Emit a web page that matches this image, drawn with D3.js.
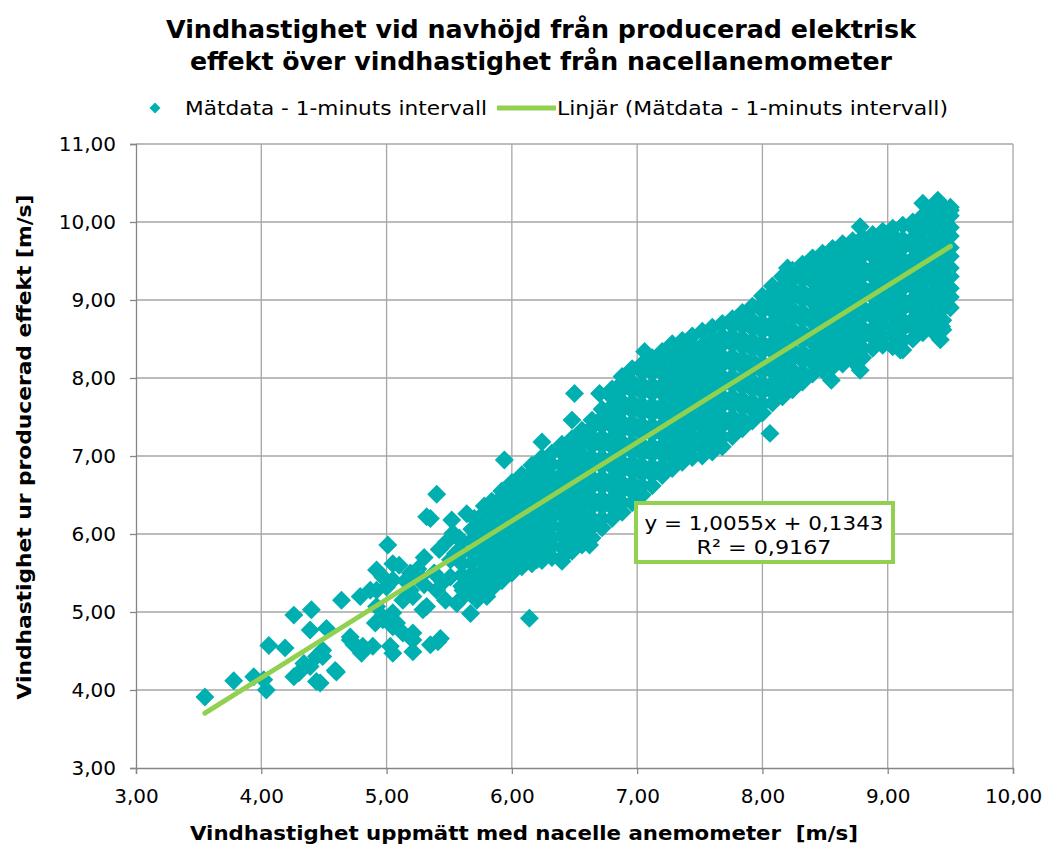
<!DOCTYPE html>
<html><head><meta charset="utf-8">
<script src="https://cdn.jsdelivr.net/npm/d3@7"></script>
<style>html,body{margin:0;padding:0;background:#fff;}svg{display:block;font-family:"DejaVu Sans",Verdana,sans-serif;}</style>
</head><body>
<svg id="chart" width="1045" height="845"></svg>
<script>
const titleLines = ["Vindhastighet vid navhöjd från producerad elektrisk", "effekt över vindhastighet från nacellanemometer"];
const legendLabels = ["Mätdata - 1-minuts intervall", "Linjär (Mätdata - 1-minuts intervall)"];
const xAxisTitle = "Vindhastighet uppmätt med nacelle anemometer  [m/s]";
const yAxisTitle = "Vindhastighet ur producerad effekt [m/s]";
const xTicks = [3, 4, 5, 6, 7, 8, 9, 10];
const yTicks = [3, 4, 5, 6, 7, 8, 9, 10, 11];
const trendSlope = 1.0055;
const trendIntercept = 0.1343;
const equationLines = ["y = 1,0055x + 0,1343", "R² = 0,9167"];

// dense band of 1-minute samples, read column by column (x, then y values)
const bandX = [5.60,5.68,5.76,5.84,5.92,6.00,6.08,6.16,6.24,6.32,6.40,6.48,6.56,6.64,6.72,6.80,6.88,6.96,7.04,7.12,7.20,7.28,7.36,7.44,7.52,7.60,7.68,7.76,7.84,7.92,8.00,8.08,8.16,8.24,8.32,8.40,8.48,8.56,8.64,8.72,8.80,8.88,8.96,9.04,9.12,9.20,9.28,9.36,9.44,9.50];
const bandY = [
 [5.18,5.33,5.47,5.62,5.76,5.90],
 [5.22,5.36,5.49,5.63,5.77,5.92,6.06],
 [5.25,5.39,5.52,5.66,5.80,5.95,6.09,6.24],
 [5.30,5.44,5.57,5.71,5.85,6.00,6.13,6.28,6.42],
 [5.40,5.52,5.66,5.79,5.93,6.06,6.20,6.34,6.47,6.55],
 [5.50,5.63,5.77,5.90,6.04,6.17,6.31,6.44,6.58,6.66],
 [5.58,5.70,5.85,5.96,6.11,6.22,6.37,6.48,6.63,6.76],
 [5.62,5.76,5.87,6.02,6.13,6.28,6.39,6.54,6.65,6.79,6.88],
 [5.66,5.78,5.93,6.04,6.19,6.30,6.45,6.56,6.71,6.83,6.98],
 [5.70,5.84,5.95,6.10,6.21,6.36,6.47,6.62,6.73,6.89,7.04],
 [5.70,5.83,5.98,6.09,6.25,6.36,6.51,6.62,6.77,6.89,7.04,7.15],
 [5.78,5.92,6.03,6.18,6.29,6.44,6.55,6.70,6.81,6.96,7.08,7.22],
 [5.86,5.98,6.13,6.24,6.39,6.50,6.65,6.76,6.91,7.02,7.17,7.33],
 [5.95,6.09,6.20,6.35,6.46,6.61,6.72,6.87,6.98,7.13,7.24,7.37,7.46],
 [6.08,6.20,6.35,6.46,6.61,6.72,6.87,6.98,7.13,7.24,7.39,7.49,7.60],
 [6.20,6.34,6.45,6.60,6.71,6.86,6.97,7.12,7.23,7.38,7.49,7.64,7.75,7.86],
 [6.28,6.40,6.55,6.66,6.81,6.92,7.07,7.18,7.33,7.44,7.59,7.70,7.85,7.94,8.02],
 [6.40,6.54,6.65,6.80,6.91,7.06,7.17,7.32,7.43,7.58,7.69,7.84,7.95,8.12],
 [6.50,6.62,6.77,6.88,7.03,7.14,7.29,7.40,7.55,7.66,7.81,7.92,8.07,8.18],
 [6.62,6.76,6.87,7.02,7.13,7.28,7.39,7.54,7.65,7.80,7.91,8.06,8.15,8.26],
 [6.75,6.87,7.02,7.13,7.28,7.39,7.54,7.65,7.80,7.91,8.06,8.17,8.34],
 [6.84,6.98,7.09,7.24,7.35,7.50,7.61,7.76,7.87,8.02,8.13,8.28,8.44],
 [6.92,7.04,7.19,7.30,7.45,7.56,7.71,7.82,7.97,8.08,8.23,8.34,8.48],
 [6.98,7.12,7.23,7.38,7.49,7.64,7.75,7.90,8.01,8.16,8.27,8.42,8.54],
 [7.00,7.12,7.27,7.38,7.53,7.64,7.79,7.90,8.05,8.16,8.31,8.42,8.60],
 [7.05,7.19,7.30,7.45,7.56,7.71,7.82,7.97,8.08,8.23,8.34,8.49,8.65],
 [7.12,7.24,7.39,7.50,7.65,7.76,7.91,8.02,8.17,8.28,8.43,8.54,8.70],
 [7.25,7.39,7.50,7.65,7.76,7.91,8.02,8.17,8.28,8.43,8.54,8.67,8.76],
 [7.35,7.47,7.62,7.73,7.88,7.99,8.14,8.25,8.40,8.51,8.66,8.84],
 [7.45,7.59,7.70,7.85,7.96,8.11,8.22,8.37,8.48,8.63,8.74,8.92],
 [7.55,7.67,7.82,7.93,8.08,8.19,8.34,8.45,8.60,8.71,8.86,8.95,9.05],
 [7.68,7.82,7.93,8.08,8.19,8.34,8.45,8.60,8.71,8.86,8.97,9.09,9.18],
 [7.76,7.88,8.03,8.14,8.29,8.40,8.55,8.66,8.81,8.92,9.07,9.17,9.30],
 [7.85,7.99,8.10,8.25,8.36,8.51,8.62,8.77,8.88,9.03,9.14,9.28,9.38],
 [7.95,8.07,8.22,8.33,8.48,8.59,8.74,8.85,9.00,9.11,9.26,9.35,9.46],
 [8.05,8.19,8.30,8.45,8.56,8.71,8.82,8.97,9.08,9.23,9.34,9.46,9.54],
 [8.10,8.22,8.37,8.48,8.63,8.74,8.89,9.00,9.15,9.26,9.41,9.49,9.60],
 [8.14,8.28,8.39,8.54,8.65,8.80,8.91,9.06,9.17,9.32,9.43,9.56,9.66],
 [8.18,8.30,8.45,8.56,8.71,8.82,8.97,9.08,9.23,9.34,9.49,9.59,9.72],
 [8.22,8.36,8.47,8.62,8.73,8.88,8.99,9.14,9.25,9.40,9.51,9.65,9.76],
 [8.26,8.38,8.53,8.64,8.79,8.90,9.05,9.16,9.31,9.42,9.57,9.67,9.80],
 [8.38,8.52,8.63,8.78,8.89,9.04,9.15,9.30,9.41,9.56,9.67,9.77,9.84],
 [8.42,8.54,8.69,8.80,8.95,9.06,9.21,9.32,9.47,9.58,9.73,9.79,9.88],
 [8.40,8.54,8.65,8.80,8.91,9.06,9.17,9.32,9.43,9.58,9.69,9.83,9.92],
 [8.36,8.48,8.63,8.74,8.89,9.00,9.15,9.26,9.41,9.52,9.67,9.78,9.96],
 [8.50,8.64,8.75,8.90,9.01,9.16,9.27,9.42,9.53,9.68,9.79,9.93,10.00],
 [8.58,8.70,8.85,8.96,9.11,9.22,9.37,9.48,9.63,9.74,9.89,9.99,10.08],
 [8.60,8.74,8.85,9.00,9.11,9.26,9.37,9.52,9.63,9.78,9.89,10.04,10.15],
 [8.62,8.74,8.89,9.00,9.15,9.26,9.41,9.52,9.67,9.78,9.93,10.04,10.20],
 [8.90,9.04,9.15,9.30,9.41,9.56,9.67,9.82,9.93,10.08,10.15]
];
// sparse and outlying samples, read individually
const sparseX = [3.55,3.78,3.94,4.04,4.02,4.06,4.19,4.26,4.40,4.26,4.30,4.34,4.39,4.44,4.44,4.47,4.49,4.39,4.52,4.49,4.60,4.59,4.64,4.71,4.71,4.74,4.79,4.80,4.81,4.87,4.89,4.91,4.92,4.92,4.92,4.97,4.97,4.97,5.00,5.01,5.03,5.05,5.05,5.05,5.05,5.05,5.08,5.13,5.13,5.19,5.19,5.21,5.21,5.21,5.21,5.27,5.29,5.32,5.32,5.35,5.35,5.40,5.40,5.41,5.43,5.51,5.51,5.52,5.53,5.56,5.61,5.64,5.67,5.72,5.77,5.80,5.88,5.90,5.94,6.04,6.14,6.20,6.24,6.40,6.48,6.50,6.62,6.70,7.06,8.06,8.20,8.55,8.62,8.78,8.78,9.10,9.28,9.40,9.42,9.43,9.50,5.10,5.15,5.25,5.30,5.38,5.42,5.45,5.48,5.55,5.58,5.47,5.30,5.70,5.78];
const sparseY = [3.91,4.12,4.17,4.00,4.13,4.57,4.54,4.96,5.03,4.17,4.22,4.34,4.30,4.43,4.11,4.09,4.51,4.77,4.79,4.43,4.23,4.25,5.15,4.68,4.64,4.58,5.20,4.47,4.56,5.28,4.56,4.86,5.54,5.07,5.28,4.90,4.94,5.45,5.32,5.86,4.56,4.47,4.99,4.81,5.41,5.62,4.86,4.73,5.15,5.50,5.28,5.20,4.73,4.64,4.49,5.45,5.03,5.07,6.22,4.58,6.20,5.28,6.51,4.62,4.66,5.45,5.67,6.18,6.01,5.11,5.28,6.26,4.98,5.15,5.32,5.20,5.50,5.58,6.95,5.67,4.92,5.67,7.18,5.65,7.46,7.80,5.86,7.80,8.34,7.29,9.41,7.97,9.68,9.94,8.10,8.36,10.24,10.28,8.49,8.66,10.19,5.60,5.40,5.55,5.70,5.50,5.80,5.38,5.90,5.75,5.95,5.15,5.35,6.20,6.36];

const points = [];
bandX.forEach((x, i) => bandY[i].forEach(y => points.push({x, y})));
sparseX.forEach((x, i) => points.push({x, y: sparseY[i]}));

const svg = d3.select("#chart");
const teal = "#00AFAF", green = "#92D050", gridCol = "#A6A6A6", axisCol = "#868686";
const x = d3.scaleLinear().domain([3, 10]).range([136, 1013]);
const y = d3.scaleLinear().domain([3, 11]).range([768, 144]);

// title
const titleLen = [750, 702];
svg.append("g").selectAll("text").data(titleLines).join("text")
  .attr("x", 541).attr("y", (d, i) => 38 + i * 32)
  .attr("text-anchor", "middle").attr("font-weight", "bold").attr("font-size", 24)
  .attr("textLength", (d, i) => titleLen[i]).attr("lengthAdjust", "spacingAndGlyphs")
  .attr("fill", "#000").text(d => d);

// gridlines
svg.append("g").selectAll("line").data(xTicks.slice(1)).join("line")
  .attr("x1", d => x(d)).attr("x2", d => x(d)).attr("y1", y(11)).attr("y2", y(3))
  .attr("stroke", gridCol).attr("stroke-width", 1.3);
svg.append("g").selectAll("line").data(yTicks.slice(1)).join("line")
  .attr("x1", x(3)).attr("x2", x(10)).attr("y1", d => y(d)).attr("y2", d => y(d))
  .attr("stroke", gridCol).attr("stroke-width", 1.3);

// axes
const fmt = d => d3.format(".2f")(d).replace(".", ",");
const xAxis = svg.append("g").attr("transform", `translate(0,${y(3)})`)
  .call(d3.axisBottom(x).tickValues(xTicks).tickFormat(fmt).tickSize(6).tickPadding(12));
const yAxis = svg.append("g").attr("transform", `translate(${x(3)},0)`)
  .call(d3.axisLeft(y).tickValues(yTicks).tickFormat(fmt).tickSize(6).tickPadding(14));
[xAxis, yAxis].forEach(a => {
  a.select(".domain").attr("stroke", axisCol).attr("stroke-width", 1.3);
  a.selectAll(".tick line").attr("stroke", axisCol).attr("stroke-width", 1.3);
  a.selectAll(".tick text").attr("font-size", 20).attr("fill", "#000")
    .attr("font-family", "'DejaVu Sans', Verdana, sans-serif");
});
xAxis.selectAll(".tick text").attr("dy", "0.85em");

// points
const diamond = d3.symbol().type(d3.symbolSquare).size(180);
svg.append("g").selectAll("path").data(points).join("path")
  .attr("d", diamond)
  .attr("transform", d => `translate(${x(d.x)},${y(d.y)}) rotate(45)`)
  .attr("fill", teal);

// trend line over the data's x-range
const xr = d3.extent(points, d => d.x);
svg.append("line")
  .attr("x1", x(xr[0])).attr("y1", y(trendSlope * xr[0] + trendIntercept))
  .attr("x2", x(xr[1])).attr("y2", y(trendSlope * xr[1] + trendIntercept))
  .attr("stroke", green).attr("stroke-width", 5).attr("stroke-linecap", "round");

// equation box
const eqLen = [239, 135];
const box = svg.append("g");
box.append("rect").attr("x", 636).attr("y", 503).attr("width", 257).attr("height", 59)
  .attr("fill", "#fff").attr("stroke", green).attr("stroke-width", 4);
box.selectAll("text").data(equationLines).join("text")
  .attr("x", 764).attr("y", (d, i) => 530 + i * 24).attr("text-anchor", "middle")
  .attr("font-size", 20).attr("textLength", (d, i) => eqLen[i]).attr("lengthAdjust", "spacingAndGlyphs")
  .attr("fill", "#000").text(d => d);

// legend
const lg = svg.append("g");
lg.append("path").attr("d", d3.symbol().type(d3.symbolSquare).size(60))
  .attr("transform", "translate(155,108) rotate(45)").attr("fill", teal);
lg.append("text").attr("x", 185).attr("y", 115).attr("font-size", 20)
  .attr("textLength", 302).attr("lengthAdjust", "spacingAndGlyphs").text(legendLabels[0]);
lg.append("line").attr("x1", 497).attr("x2", 556).attr("y1", 108).attr("y2", 108)
  .attr("stroke", green).attr("stroke-width", 5);
lg.append("text").attr("x", 557).attr("y", 115).attr("font-size", 20)
  .attr("textLength", 391).attr("lengthAdjust", "spacingAndGlyphs").text(legendLabels[1]);

// axis titles
svg.append("text").attr("x", 524).attr("y", 840).attr("text-anchor", "middle")
  .attr("font-weight", "bold").attr("font-size", 20).style("white-space", "pre")
  .attr("textLength", 668).attr("lengthAdjust", "spacingAndGlyphs").text(xAxisTitle);
svg.append("text").attr("transform", "translate(31,447) rotate(-90)").attr("text-anchor", "middle")
  .attr("font-weight", "bold").attr("font-size", 20)
  .attr("textLength", 505).attr("lengthAdjust", "spacingAndGlyphs").text(yAxisTitle);
</script>
</body></html>
